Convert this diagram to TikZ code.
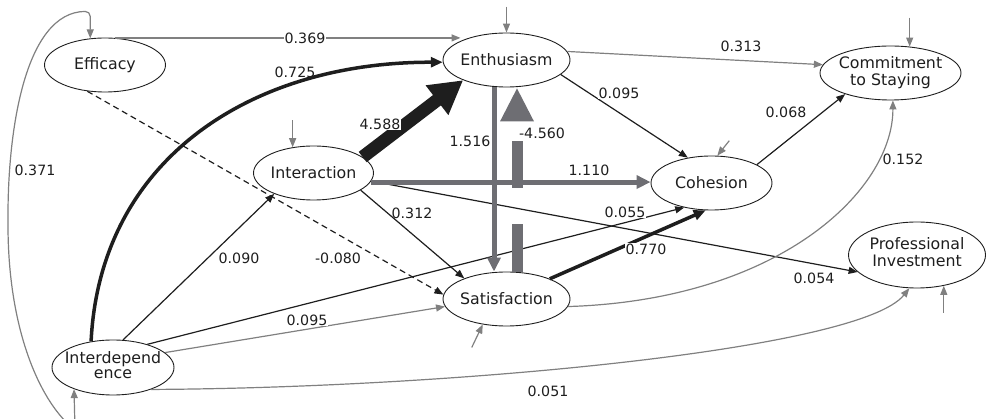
\documentclass[tikz,border=0pt]{standalone}
\usepackage{fontspec}
\setmainfont{DejaVu Sans}
\usetikzlibrary{arrows.meta,shapes.geometric}
\definecolor{gthin}{RGB}{128,128,128}
\definecolor{gthick}{RGB}{110,110,115}
\definecolor{ink}{RGB}{30,30,30}
\begin{document}
\begin{tikzpicture}[x=1pt,y=-1pt,
  var/.style={ellipse,draw=ink,line width=0.9pt,inner sep=0pt,text=ink,
    font=\fontsize{15.8}{15}\selectfont},
  lab/.style={font=\fontsize{14.2}{14}\selectfont,text=ink,inner sep=1pt},
  wlab/.style={lab,fill=white},
  bl/.style={draw=ink,line width=1.2pt,-{Triangle[length=9pt,width=7pt]}},
  gl/.style={draw=gthin,line width=1.2pt,-{Triangle[length=9pt,width=7pt]}},
  covar/.style={draw=gthin,line width=1.2pt,{Triangle[length=9pt,width=7pt]}-{Triangle[length=9pt,width=7pt]}},
  bthick/.style={draw=ink,line width=3.5pt,-{Triangle[length=12pt,width=10pt]}},
  gthickar/.style={draw=gthick,line width=5pt,-{Triangle[length=14pt,width=13pt]}},
  bigblack/.style={draw=ink,line width=13pt,-{Triangle[length=33pt,width=35pt]}},
  grayshaft/.style={draw=gthick,line width=11pt},
  grayhead/.style={fill=gthick},
]
\useasboundingbox (0,0) rectangle (986,419);
\clip (0,0) rectangle (986,419);

% variables
\node[var,minimum width=121pt,minimum height=54pt] (eff) at (105,65) {\makebox[0pt]{Efficacy}};
\node[var,minimum width=127pt,minimum height=54pt] (enth) at (506.5,60) {\makebox[0pt]{Enthusiasm}};
\node[var,minimum width=141pt,minimum height=54pt] (comm) at (890.5,73) {\makebox[0pt]{\begin{tabular}{@{}c@{}}Commitment\\to Staying\end{tabular}}};
\node[var,minimum width=120pt,minimum height=54pt] (inter) at (313.5,173) {\makebox[0pt]{Interaction}};
\node[var,minimum width=121pt,minimum height=54pt] (coh) at (711.5,183) {\makebox[0pt]{Cohesion}};
\node[var,minimum width=127pt,minimum height=54pt] (sat) at (506.5,299) {\makebox[0pt]{Satisfaction}};
\node[var,minimum width=137pt,minimum height=66pt,font=\fontsize{15.8}{17}\selectfont] (pi) at (917,255) {\makebox[0pt]{\begin{tabular}{@{}c@{}}Professional\\Investment\end{tabular}}};
\node[var,minimum width=122pt,minimum height=55pt] (idep) at (113,367.5) {\makebox[0pt]{\begin{tabular}{@{}c@{}}Interdepend\\ence\end{tabular}}};

% free ends of the error arrows, and the big grey head
\coordinate (eEnth) at ([yshift=26pt]enth.north);
\coordinate (eComm) at ([yshift=29pt]comm.54.6);
\coordinate (eInter) at ([yshift=27pt]inter.129);
\coordinate (eCoh) at ([shift={(12pt,15pt)}]coh.78);
\coordinate (eSat) at ([shift={(-11pt,-23pt)}]sat.227);
\coordinate (ePi) at ([yshift=-27pt]pi.-49.6);
\coordinate (hb) at ([xshift=10.5pt,yshift=-34pt]enth.south);
\coordinate (htip) at ([xshift=10.5pt,yshift=-1pt]enth.south);

% paths
\draw[covar,rounded corners=5pt] (eff.119) -- ++(0,-27) .. controls (25,12) and (8,130) .. (8,220) .. controls (8,330) and (40,400) .. (75,430) -- (idep.209.5);
\draw[gl] (eff.70) -- ([xshift=-46pt]enth.center |- eff.70);
\draw[bl,dash pattern=on 6pt off 4pt] (eff.236) -- (sat.176.5);
\draw[bl] (idep.70) -- (inter.208);
\draw[bl] (idep.34) -- (coh.222);
\draw[gl] (idep.16) -- (sat.187);
\draw[gl] (idep.-30) .. controls (450,388) and (860,350) .. (pi.257);
\draw[bl] (inter.-20) -- (sat.154);
\draw[bl] (inter.-8) -- (pi.196);
\draw[gl] (enth.8) -- (comm.173.5);
\draw[bl] (enth.-15) -- (coh.133);
\draw[bl] (coh.22) -- (comm.205);
\draw[gl] (sat.-7) .. controls (780,300) and (893,190) .. (comm.-85);
\draw[bthick] (sat.25) -- (coh.258);
\draw[bthick] (idep.130) .. controls (100,160) and (250,62) .. (enth.182);
\draw[gthickar] ([xshift=-12.5pt]enth.south) -- ([xshift=-12.5pt]sat.north);
\draw[gthickar] (inter.-9) -- (inter.-9 -| coh.west);
\draw[grayshaft,dash pattern=on 48pt off 36pt on 47pt off 40pt] ([xshift=10.5pt]sat.north) -- (hb);
\fill[grayhead] ([xshift=-17pt]hb) -- (htip) -- ([xshift=17pt]hb) -- cycle;
\draw[bigblack] (inter.18) -- (enth.205);

% error terms
\draw[gl] (eEnth) -- (enth.north);
\draw[gl] (eComm) -- (comm.54.6);
\draw[gl] (eInter) -- (inter.129);
\draw[gl] (eCoh) -- (coh.78);
\draw[gl] (eSat) -- (sat.227);
\draw[gl] (ePi) -- (pi.-49.6);

% coefficients
\node[wlab] (l369) at (305,38) {0.369};
\node[lab] (l725) at (295,72) {0.725};
\node[wlab] (l4588) at (380,124) {4.588};
\node[wlab] (l1516) at (470,141) {1.516};
\node[lab] (l4560) at (542,133) {-4.560};
\node[wlab] (l095a) at (619,93) {0.095};
\node[lab] (l313) at (741,46) {0.313};
\node[lab] (l068) at (786,112) {0.068};
\node[lab] (l110) at (589,170) {1.110};
\node[lab] (l152) at (903,159) {0.152};
\node[lab] (l371) at (35,170) {0.371};
\node[lab] (l312) at (412,213) {0.312};
\node[lab] (l080) at (338,258) {-0.080};
\node[lab] (l090) at (239,258) {0.090};
\node[wlab] (l055) at (625,212) {0.055};
\node[wlab] (l770) at (646,249) {0.770};
\node[lab] (l054) at (814,278) {0.054};
\node[wlab] (l095b) at (307,320) {0.095};
\node[lab] (l051) at (548,391) {0.051};
\end{tikzpicture}
\end{document}
